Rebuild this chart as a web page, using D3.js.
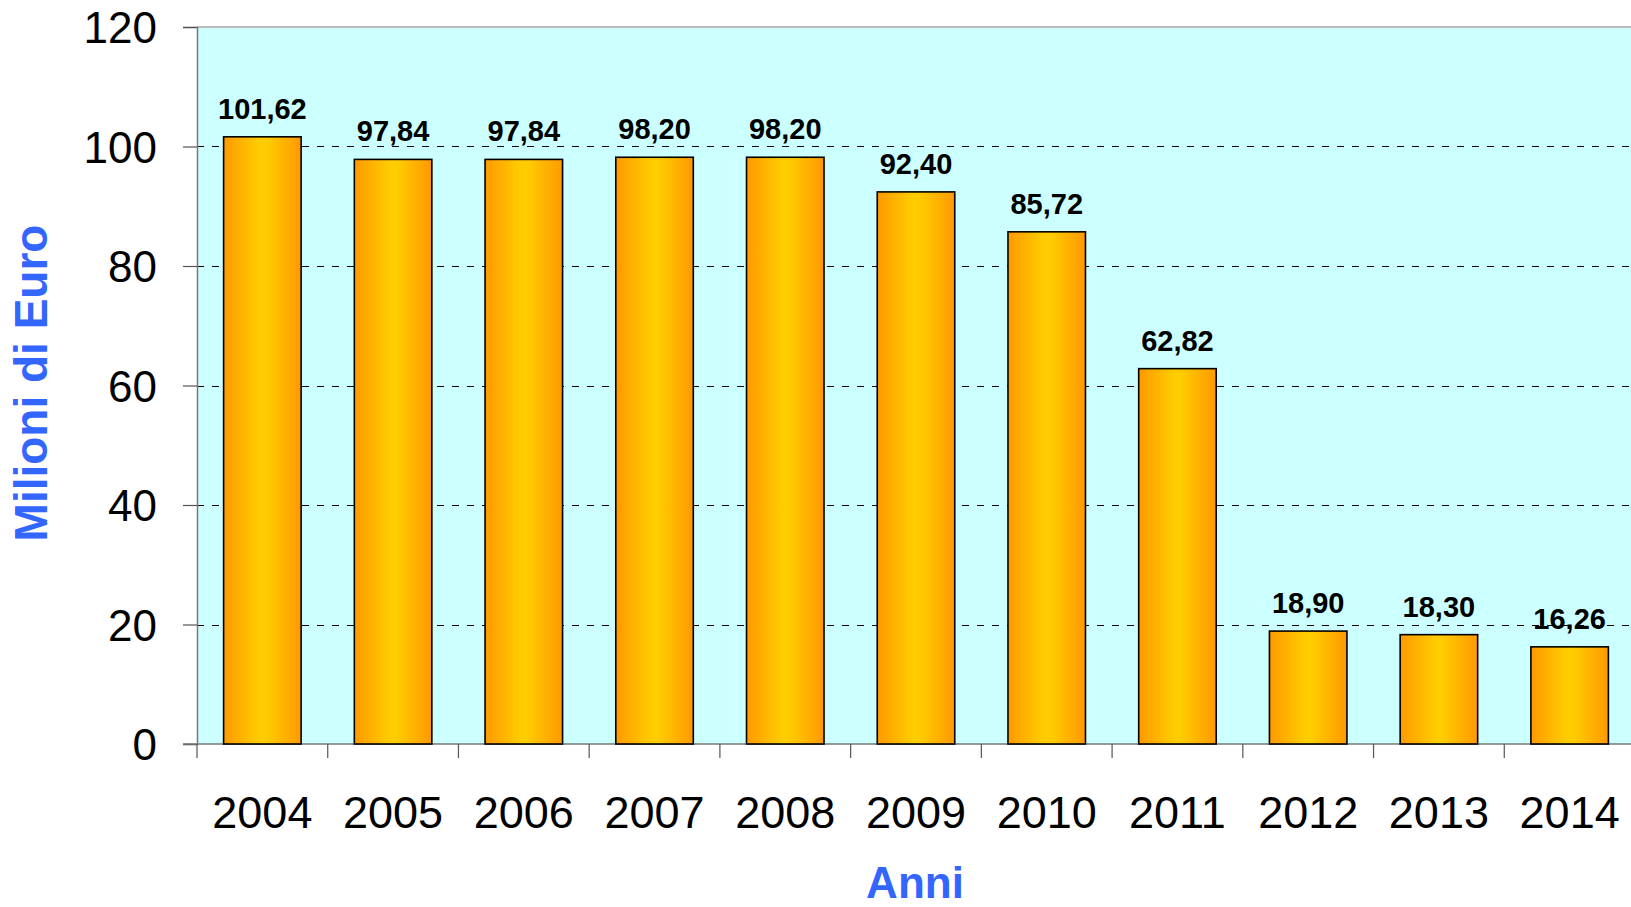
<!DOCTYPE html>
<html>
<head>
<meta charset="utf-8">
<script src="https://cdn.jsdelivr.net/npm/d3@7"></script>
<style>
  html, body { margin: 0; padding: 0; background: #ffffff; }
  svg { display: block; }
</style>
</head>
<body>
<svg id="chart" width="1631" height="907"></svg>
<script>
const years = ["2004","2005","2006","2007","2008","2009","2010","2011","2012","2013","2014"];
const values = [101.62, 97.84, 97.84, 98.20, 98.20, 92.40, 85.72, 62.82, 18.90, 18.30, 16.26];
const yTicks = [0, 20, 40, 60, 80, 100, 120];
const yTitle = "Milioni di Euro";
const xTitle = "Anni";

(function () {
const svg = d3.select("#chart");
const pLeft = 197, pRight = 1635, pTop = 27, pBottom = 744;

const x = d3.scaleBand().domain(years).range([pLeft, pRight]).paddingInner(0.4).paddingOuter(0.2);
const y = d3.scaleLinear().domain([0, 120]).range([pBottom, pTop]);

const defs = svg.append("defs");
const grad = defs.append("linearGradient").attr("id", "barGrad")
  .attr("x1", "0%").attr("x2", "100%").attr("y1", "0%").attr("y2", "0%");
grad.append("stop").attr("offset", "0%").attr("stop-color", "#FF9900");
grad.append("stop").attr("offset", "45%").attr("stop-color", "#FFCC00");
grad.append("stop").attr("offset", "55%").attr("stop-color", "#FFCC00");
grad.append("stop").attr("offset", "100%").attr("stop-color", "#FF9900");

// plot background
svg.append("rect").attr("x", pLeft).attr("y", pTop)
  .attr("width", pRight - pLeft).attr("height", pBottom - pTop)
  .attr("fill", "#CCFFFF");

// top border
svg.append("line").attr("x1", pLeft).attr("x2", pRight)
  .attr("y1", pTop).attr("y2", pTop)
  .attr("stroke", "#BBBBBB").attr("stroke-width", 2);

// gridlines
svg.append("g").selectAll("line")
  .data(yTicks.filter(d => d > 0 && d < 120))
  .join("line")
  .attr("x1", pLeft).attr("x2", pRight)
  .attr("y1", d => Math.round(y(d)) + 0.5).attr("y2", d => Math.round(y(d)) + 0.5)
  .attr("stroke", "#000").attr("stroke-width", 1.2)
  .attr("stroke-dasharray", "7,8");

// y axis
const yAxis = d3.axisLeft(y).tickValues(yTicks).tickSize(14).tickPadding(26);
const gy = svg.append("g").attr("transform", `translate(${pLeft},0)`).call(yAxis);
gy.select(".domain").attr("stroke", "#777").attr("stroke-width", 1.5);
gy.selectAll(".tick line").attr("stroke", "#555").attr("stroke-width", 1.2);
gy.selectAll(".tick text")
  .attr("font-family", "Liberation Sans, Arial, sans-serif")
  .attr("font-size", 44).attr("fill", "#000")
  .attr("dy", "0.36em");

// x axis with ticks on category boundaries
const gx = svg.append("g").attr("transform", `translate(0,${pBottom})`);
gx.append("line").attr("x1", pLeft - 14).attr("x2", pRight)
  .attr("y1", 0).attr("y2", 0).attr("stroke", "#777").attr("stroke-width", 1.5);
const step = x.step();
const boundaries = d3.range(years.length + 1).map(i => pLeft + i * step);
gx.selectAll("line.tk").data(boundaries).join("line").attr("class", "tk")
  .attr("x1", d => d).attr("x2", d => d).attr("y1", 0).attr("y2", 14)
  .attr("stroke", "#555").attr("stroke-width", 1.2);
gx.selectAll("text").data(years).join("text")
  .attr("x", d => pLeft + years.indexOf(d) * step + step / 2)
  .attr("y", 84)
  .attr("text-anchor", "middle")
  .attr("font-family", "Liberation Sans, Arial, sans-serif")
  .attr("font-size", 45).attr("fill", "#000")
  .text(d => d);

// bars
const bw = 77.5;
const cx = d => pLeft + years.indexOf(d) * step + step / 2;
const rows = years.map((d, i) => ({ year: d, value: values[i] }));
svg.append("g").selectAll("rect")
  .data(rows)
  .join("rect")
  .attr("x", d => cx(d.year) - bw / 2)
  .attr("y", d => y(d.value))
  .attr("width", bw)
  .attr("height", d => y(0) - y(d.value))
  .attr("fill", "url(#barGrad)")
  .attr("stroke", "#000").attr("stroke-width", 1.6);

// value labels
const fmt = d3.format(".2f");
svg.append("g").selectAll("text")
  .data(rows)
  .join("text")
  .attr("x", d => cx(d.year))
  .attr("y", d => y(d.value) - 18)
  .attr("text-anchor", "middle")
  .attr("font-family", "Liberation Sans, Arial, sans-serif")
  .attr("font-weight", "bold").attr("font-size", 29).attr("fill", "#000")
  .text(d => fmt(d.value).replace(".", ","));

// axis titles
svg.append("text")
  .attr("transform", `translate(47,383) rotate(-90)`)
  .attr("text-anchor", "middle")
  .attr("font-family", "Liberation Sans, Arial, sans-serif")
  .attr("font-weight", "bold").attr("font-size", 46).attr("fill", "#3366FF")
  .text(yTitle);

svg.append("text")
  .attr("x", 915).attr("y", 898)
  .attr("text-anchor", "middle")
  .attr("font-family", "Liberation Sans, Arial, sans-serif")
  .attr("font-weight", "bold").attr("font-size", 44).attr("fill", "#3366FF")
  .text(xTitle);
})();
</script>
</body>
</html>
